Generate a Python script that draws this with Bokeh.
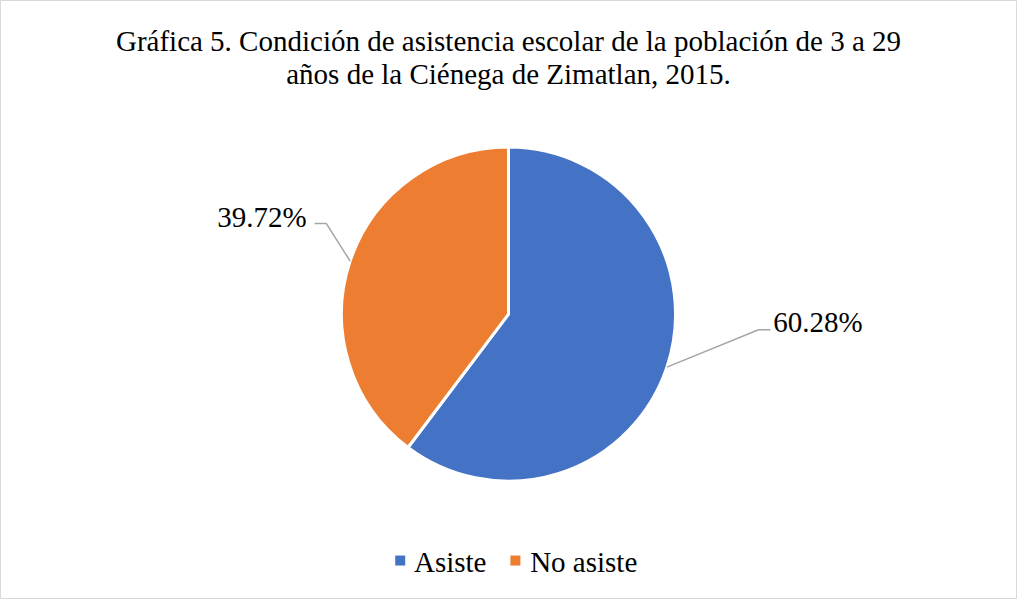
import math
from bokeh.plotting import figure
from bokeh.models import ColumnDataSource, Range1d
from bokeh.core.properties import value
from bokeh.embed import file_html
from bokeh.resources import INLINE

# ---- data ----
categories = ["Asiste", "No asiste"]
percentages = [60.28, 39.72]
colors = ["#4472C4", "#ED7D31"]
label_texts = ["60.28%", "39.72%"]
title_lines = ["Gráfica 5. Condición de asistencia escolar de la población de 3 a 29",
               "años de la Ciénega de Zimatlan, 2015."]

# ---- layout ----
W, H = 1017, 599
REF_W, REF_H = 1033, 615
FONT = "Liberation Serif"


def sx(X):
    return X * W / REF_W


def sy(Y):
    return H - Y * H / REF_H


CX, CY, R = sx(516), sy(322), 167

p = figure(width=W, height=H, x_range=Range1d(0, W), y_range=Range1d(0, H),
           output_backend="svg", toolbar_location=None,
           x_axis_type=None, y_axis_type=None, min_border=0)
p.grid.visible = False
p.outline_line_color = "#d9d9d9"
p.outline_line_width = 1
p.background_fill_color = "white"
p.border_fill_color = "white"

# wedges (clockwise from 12 o'clock)
total = sum(percentages)
starts, ends, mids = [], [], []
a = math.pi / 2
for v in percentages:
    sweep = v / total * 2 * math.pi
    starts.append(a)
    ends.append(a - sweep)
    mids.append(a - sweep / 2)
    a -= sweep

src = ColumnDataSource(dict(cat=categories, val=percentages, color=colors,
                            start=starts, end=ends))
p.wedge(x=CX, y=CY, radius=R, start_angle="start", end_angle="end",
        direction="clock", fill_color="color", line_color="white",
        line_width=3, source=src)

# data labels with leader lines (label placement is layout, in reference px)
label_layout = [
    dict(elbow=(770, 338), end=(782, 338), text=(785, 330), align="left"),
    dict(elbow=(331, 229), end=(319, 229), text=(311, 222), align="right"),
]
for m, txt, lay in zip(mids, label_texts, label_layout):
    ex, ey = CX + R * math.cos(m), CY + R * math.sin(m)
    p.line([ex, sx(lay["elbow"][0]), sx(lay["end"][0])],
           [ey, sy(lay["elbow"][1]), sy(lay["end"][1])],
           line_color="#a6a6a6", line_width=1.5)
    p.text(x=[sx(lay["text"][0])], y=[sy(lay["text"][1])], text=[txt],
           text_font=value(FONT), text_font_size="29px", text_color="black",
           text_align=lay["align"], text_baseline="middle")

# title
p.text(x=[sx(516), sx(516)], y=[sy(42), sy(75)], text=title_lines,
       text_font=value(FONT), text_font_size="29px", text_color="black",
       text_align="center", text_baseline="middle")

# legend
leg_sq_x = [sx(406), sx(523)]
leg_tx_x = [sx(420), sx(538)]
p.scatter(x=leg_sq_x, y=[sy(575)] * 2, marker="square", size=10,
          fill_color=colors, line_color=None)
p.text(x=leg_tx_x, y=[sy(577)] * 2, text=categories,
       text_font=value(FONT), text_font_size="29px", text_color="black",
       text_align="left", text_baseline="middle")

open("out.html", "w").write(file_html(p, INLINE))
